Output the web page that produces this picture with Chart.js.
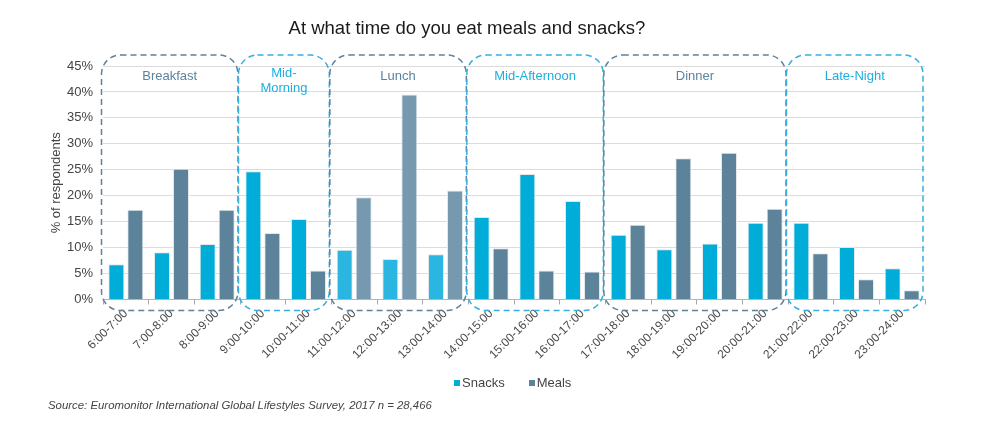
<!DOCTYPE html>
<html>
<head>
<meta charset="utf-8">
<script src="https://cdn.jsdelivr.net/npm/chart.js@4.4.1/dist/chart.umd.min.js"></script>
<style>
html,body{margin:0;padding:0;background:#fff;}
#wrap{position:relative;width:984px;height:424px;font-family:"Liberation Sans",Arial,sans-serif;overflow:hidden;}
#c{position:absolute;left:0;top:0;}
#title{position:absolute;left:0;width:934px;top:18px;line-height:20px;text-align:center;font-size:18.5px;color:#1a1a1a;}
#legend{position:absolute;left:454px;top:375px;line-height:16px;font-size:13px;color:#444;display:flex;}
#legend .it{display:flex;align-items:center;margin-right:24px;}
#legend .sw{width:6px;height:6px;margin-right:2px;}
#source{position:absolute;left:48px;top:398px;line-height:14px;font-size:11.4px;font-style:italic;color:#444;}
</style>
</head>
<body>
<div id="wrap">
<canvas id="c" width="984" height="424"></canvas>
<div id="title">At what time do you eat meals and snacks?</div>
<div id="legend"></div>
<div id="source">Source: Euromonitor International Global Lifestyles Survey, 2017 n = 28,466</div>
</div>
<script>
const categories = ['6:00-7:00','7:00-8:00','8:00-9:00','9:00-10:00','10:00-11:00','11:00-12:00','12:00-13:00','13:00-14:00','14:00-15:00','15:00-16:00','16:00-17:00','17:00-18:00','18:00-19:00','19:00-20:00','20:00-21:00','21:00-22:00','22:00-23:00','23:00-24:00'];
const snacks = [6.8, 9.1, 10.7, 24.7, 15.5, 9.6, 7.8, 8.7, 15.9, 24.2, 19.0, 12.5, 9.7, 10.8, 14.8, 14.8, 10.1, 6.0];
const meals  = [17.3, 25.2, 17.3, 12.8, 5.6, 19.7, 39.5, 21.0, 9.9, 5.6, 5.4, 14.4, 27.2, 28.3, 17.5, 8.9, 3.9, 1.8];
const yTicks = [0, 5, 10, 15, 20, 25, 30, 35, 40, 45];
const groupNames = [['Breakfast'], ['Mid-', 'Morning'], ['Lunch'], ['Mid-Afternoon'], ['Dinner'], ['Late-Night']];
const groupStart = [0, 3, 5, 8, 11, 15];
const groupEnd   = [2, 4, 7, 10, 14, 17];
const seriesNames = ['Snacks', 'Meals'];

const COL = {
  snack: '#00acd8', meal: '#5d839b',
  snackLight: '#2ab6e0', mealLight: '#7699af',
  boxDark: '#5f819a', boxLight: '#33b0e0',
  txtDark: '#5a84a0', txtLight: '#1faee0'
};
const highlightGroup = 2;
function inGroup(i, g){ return i >= groupStart[g] && i <= groupEnd[g]; }
const snackColors = categories.map((_, i) => inGroup(i, highlightGroup) ? COL.snackLight : COL.snack);
const mealColors  = categories.map((_, i) => inGroup(i, highlightGroup) ? COL.mealLight : COL.meal);

// HTML legend
const lg = document.getElementById('legend');
[[seriesNames[0], COL.snack], [seriesNames[1], COL.meal]].forEach(([n, c]) => {
  const it = document.createElement('div'); it.className = 'it';
  const sw = document.createElement('div'); sw.className = 'sw'; sw.style.background = c;
  const t = document.createElement('span'); t.textContent = n;
  it.appendChild(sw); it.appendChild(t); lg.appendChild(it);
});

function rr(ctx, l, t, r, b, rad){
  ctx.beginPath();
  ctx.moveTo(l + rad, t);
  ctx.lineTo(r - rad, t);
  ctx.arcTo(r, t, r, t + rad, rad);
  ctx.lineTo(r, b - rad);
  ctx.arcTo(r, b, r - rad, b, rad);
  ctx.lineTo(l + rad, b);
  ctx.arcTo(l, b, l, b - rad, rad);
  ctx.lineTo(l, t + rad);
  ctx.arcTo(l, t, l + rad, t, rad);
  ctx.closePath();
}

const groupBoxes = {
  id: 'groupBoxes',
  afterDatasetsDraw(chart){
    const ctx = chart.ctx, x = chart.scales.x, y = chart.scales.y;
    const half = (x.getPixelForValue(1) - x.getPixelForValue(0)) / 2;
    const top = y.getPixelForValue(yTicks[yTicks.length - 1]) - 11;
    const bottom = y.getPixelForValue(0) + 11;
    ctx.save();
    groupNames.forEach((lines, g) => {
      const dark = g % 2 === 0;
      const l = x.getPixelForValue(groupStart[g]) - half - 1.5;
      const r = x.getPixelForValue(groupEnd[g]) + half - 2;
      ctx.setLineDash([6, 4]);
      ctx.lineWidth = 1.5;
      ctx.strokeStyle = dark ? COL.boxDark : COL.boxLight;
      rr(ctx, l, top, r, bottom, 19);
      ctx.stroke();
      ctx.setLineDash([]);
      ctx.fillStyle = dark ? COL.txtDark : COL.txtLight;
      ctx.font = '13px "Liberation Sans", Arial, sans-serif';
      ctx.textAlign = 'center';
      ctx.textBaseline = 'middle';
      const cx = (l + r) / 2;
      const y0 = lines.length > 1 ? top + 18 : top + 21;
      lines.forEach((s, k) => ctx.fillText(s, cx, y0 + k * 15));
    });
    ctx.restore();
  }
};

new Chart(document.getElementById('c'), {
  type: 'bar',
  data: {
    labels: categories,
    datasets: [
      { label: seriesNames[0], data: snacks, backgroundColor: snackColors, borderColor: '#e3e8eb', borderWidth: 1, categoryPercentage: 0.832, barPercentage: 0.842 },
      { label: seriesNames[1], data: meals, backgroundColor: mealColors, borderColor: '#e3e8eb', borderWidth: 1, categoryPercentage: 0.832, barPercentage: 0.842 }
    ]
  },
  options: {
    responsive: false,
    animation: false,
    devicePixelRatio: 1,
    layout: { padding: { left: 0, top: 66, right: 59, bottom: 0 } },
    plugins: { legend: { display: false }, tooltip: { enabled: false }, title: { display: false } },
    scales: {
      x: {
        afterFit(s){ s.height = 124.5; },
        grid: { display: true, drawOnChartArea: false, drawTicks: true, tickLength: 5, color: '#a8a8a8', offset: true },
        border: { display: true, color: '#b5b5b5' },
        ticks: { autoSkip: false, maxRotation: 45, minRotation: 45, color: '#4a4a4a', padding: 2, font: { family: '"Liberation Sans", Arial, sans-serif', size: 12 } }
      },
      y: {
        min: 0, max: 45,
        afterFit(s){ s.width = 103; },
        afterBuildTicks(s){ s.ticks = yTicks.map(v => ({ value: v })); },
        grid: { color: '#dcdcdc', drawTicks: false, lineWidth: 1 },
        border: { display: false },
        ticks: { color: '#444', padding: 10, callback: v => v + '%', font: { family: '"Liberation Sans", Arial, sans-serif', size: 13 } },
        title: { display: true, text: '% of respondents', color: '#444', padding: { top: 49, bottom: 0 }, font: { family: '"Liberation Sans", Arial, sans-serif', size: 13 } }
      }
    }
  },
  plugins: [groupBoxes]
});
</script>
</body>
</html>
